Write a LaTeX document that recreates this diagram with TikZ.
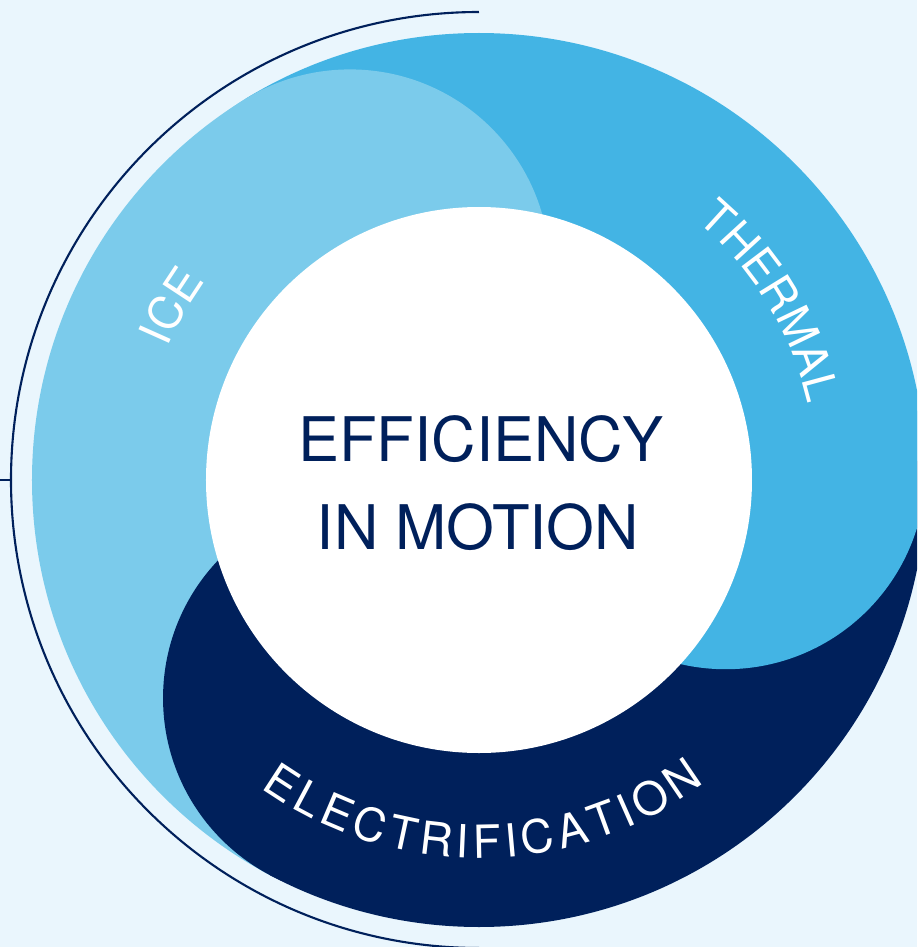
\documentclass[tikz,border=0pt]{standalone}
\usepackage{fontspec}
\setmainfont{TeX Gyre Heros}
\usepackage{xcolor}
\usetikzlibrary{decorations.text}

\definecolor{bgblue}{HTML}{EAF6FD}
\definecolor{iceblue}{HTML}{7BCBEB}
\definecolor{thermalblue}{HTML}{43B4E4}
\definecolor{navy}{HTML}{00205B}

\newcommand\ringfont{\fontsize{26}{26}\selectfont}
\newcommand\titlefont{\fontsize{35}{50}\selectfont}

\begin{document}
\begin{tikzpicture}[x=0.02cm, y=0.02cm,
  titletext/.style={text=navy, font=\titlefont, anchor=base, inner sep=0pt}]
  \def\Rout{447}
  \def\Rin{273}
  \def\Rhead{200}
  \def\Dhead{247}
  \def\Rline{468}

  \fill[bgblue] (-479,-467) rectangle (438,480);
  \useasboundingbox (-479,-467) rectangle (438,480);
  \clip (-479,-467) rectangle (438,480);

  % ring segments
  \begin{scope}
    \clip (0,0) circle (\Rout);
    \foreach \a/\b/\col in {2.5/121.5/thermalblue, 121.5/242/iceblue, 242/362.5/navy} {
      \fill[\col] (0,0) -- (\a:480) arc[start angle=\a, end angle=\b, radius=480] -- cycle;
    }
    % rounded heads
    \foreach \a/\col in {2.5/thermalblue, 121.5/iceblue, 242/navy} {
      \fill[\col] (\a:\Dhead) circle (\Rhead);
    }
  \end{scope}
  \fill[white] (0,0) circle (\Rin);

  % outer line
  \coordinate (tick) at (180:\Rline);
  \draw[navy, line width=1.2pt] (90:\Rline) arc[start angle=90, end angle=270, radius=\Rline];
  \draw[navy, line width=1.2pt] (-479,0) -- (tick);

  % labels
  \path[decorate, decoration={text along path, text={|\ringfont|ICE},
    text color=white, text align=center}]
    (165:338) arc[start angle=165, end angle=136, radius=338];
  \path[decorate, decoration={text along path, text={|\ringfont|THERMAL},
    text color=white, text align=center}]
    (55:338) arc[start angle=55, end angle=8, radius=338];
  \path[decorate, decoration={text along path, text={|\ringfont|ELECTRIFICATION},
    text color=white, text align={fit to path}}]
    (234.7:378) arc[start angle=234.7, end angle=306.7, radius=378];

  \node[titletext] (eff) at (2,19) {EFFICIENCY};
  \node[titletext] (motion) at (-1,-69) {IN MOTION};
\end{tikzpicture}
\end{document}
